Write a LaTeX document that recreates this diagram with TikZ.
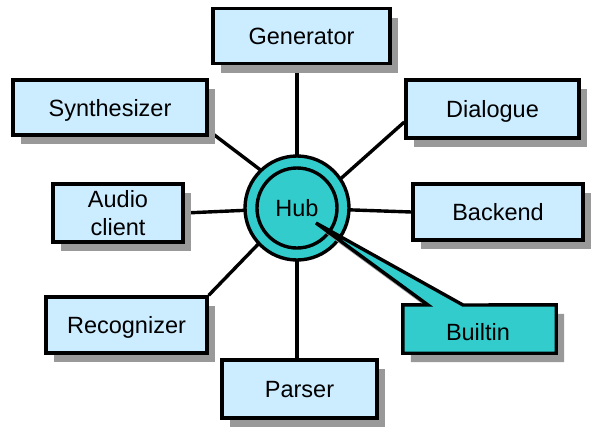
\documentclass[tikz,border=0pt]{standalone}
\usepackage{fontspec}
\setmainfont{Liberation Sans}
\usetikzlibrary{shadows,calc}
\definecolor{boxblue}{RGB}{204,236,255}
\definecolor{hubteal}{RGB}{51,204,204}
\definecolor{shadowgray}{RGB}{153,153,153}
\pgfdeclarelayer{background}
\pgfsetlayers{background,main}
\begin{document}
\begin{tikzpicture}[x=1pt,y=-1pt,
  every node/.style={font=\fontsize{23.5}{28}\selectfont},
  boxshadow/.style={drop shadow={shadow xshift=8pt,shadow yshift=-9pt,fill=shadowgray,opacity=1}},
  module/.style={draw,line width=3.4pt,fill=boxblue,inner sep=0pt,align=center,boxshadow},
  oneline/.style={text height=17pt,text depth=0pt},
  ring/.style={draw,circle,line width=3.4pt,fill=hubteal,inner sep=0pt},
  link/.style={line width=3.4pt,shorten <=-3pt}]
\useasboundingbox (0,0) rectangle (599,431);

\node[module,oneline,minimum width=177pt,minimum height=55pt] (gen) at (301.5,36) {Generator};
\node[module,oneline,minimum width=194pt,minimum height=55pt] (syn) at (110,107.5) {Synthesizer};
\node[module,minimum width=130pt,minimum height=58pt] (aud) at (118,213) {Audio\\client};
\node[module,oneline,minimum width=173pt,minimum height=58pt] (dia) at (492.5,109) {Dialogue};
\node[module,oneline,minimum width=170pt,minimum height=56pt] (bac) at (498,212) {Backend};
\node[module,oneline,minimum width=161pt,minimum height=56pt] (rec) at (126.5,325) {Recognizer};
\node[module,oneline,minimum width=155pt,minimum height=58pt] (par) at (299.5,389) {Parser};

\node[ring,minimum size=104pt] (hub) at (297,208) {};
\node[ring,minimum size=80pt,oneline] (hubin) at (297,208) {Hub};

\begin{pgfonlayer}{background}
  \draw[link] (hub.north) -- (hub.north |- gen.south);
  \draw[link] (hub.south) -- (hub.south |- par.north);
  \draw[link] (hub.center) -- (aud.east);
  \draw[link] (hub.center) -- (bac.west);
  \draw[link] (hub.134) -- ($(syn.south east)+(0,-6)$);
  \draw[link] (hub.34) -- ($(dia.west)+(0,13)$);
  \draw[link] (hub.223) -- (rec.north east);
\end{pgfonlayer}

\node[inner sep=0pt,minimum width=153pt,minimum height=48pt] (bui) at (479.5,329) {};
\coordinate (tip) at (316,223);
\draw[line width=3.4pt,fill=hubteal,line join=miter,boxshadow]
  (tip) -- (463,305) -- (bui.north east) -- (bui.south east) -- (bui.south west)
  -- (bui.north west) -- (428,305) -- cycle;
\node[oneline,inner sep=0pt] (builabel) at (478,332) {Builtin};
\end{tikzpicture}
\end{document}
